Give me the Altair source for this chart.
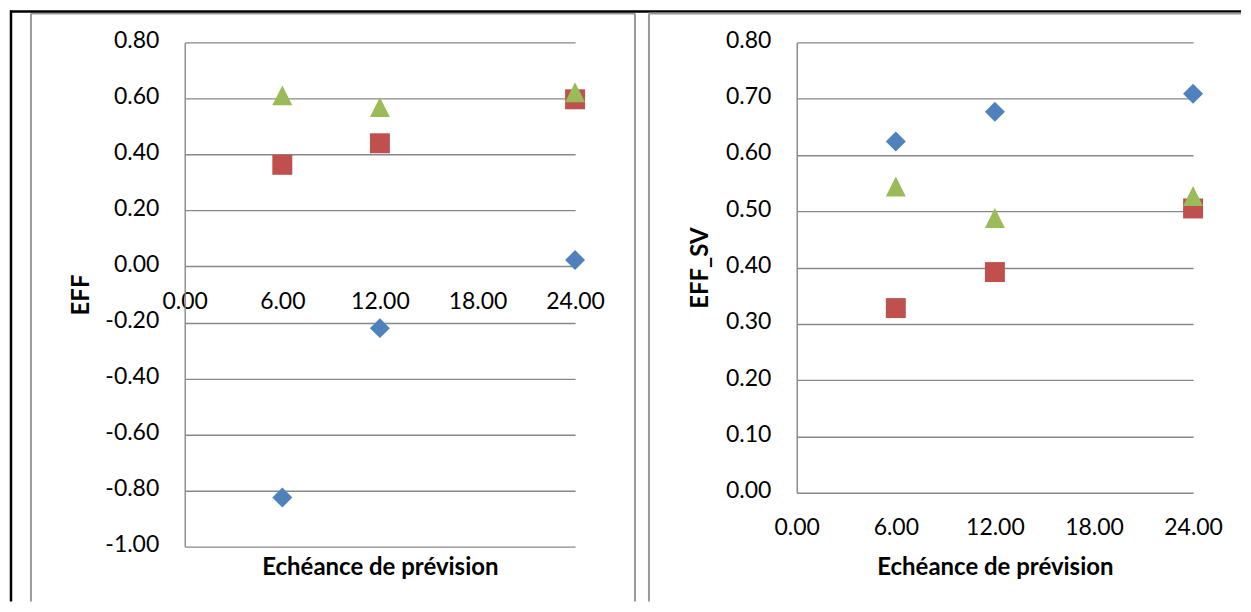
import altair as alt
import pandas as pd

# ---- data ----
lead_hours = [6, 12, 24]
series_names = ["Série1", "Série2", "Série3"]

eff_blue = [-0.825, -0.22, 0.023]
eff_red = [0.363, 0.44, 0.597]
eff_green = [0.611, 0.569, 0.622]

effsv_blue = [0.624, 0.677, 0.709]
effsv_red = [0.328, 0.392, 0.505]
effsv_green = [0.544, 0.488, 0.527]

x_ticks = [0, 6, 12, 18, 24]
eff_ticks = [-1.0, -0.8, -0.6, -0.4, -0.2, 0.0, 0.2, 0.4, 0.6, 0.8]
effsv_ticks = [0.0, 0.1, 0.2, 0.3, 0.4, 0.5, 0.6, 0.7, 0.8]

x_title = "Echéance de prévision"

series_colors = ["#4F81BD", "#C0504D", "#9BBB59"]
series_shapes = ["diamond", "square", "M0,-1L1,1L-1,1Z"]

FONT = "Lato"
GRID = "#878787"


def long_df(blue, red, green):
    rows = []
    for name, vals in zip(series_names, [blue, red, green]):
        for x, v in zip(lead_hours, vals):
            rows.append({"x": x, "serie": name, "v": v})
    return pd.DataFrame(rows)


def one_row():
    return alt.Data(values=[{"k": 1}])


def rule(color, width, **enc):
    return alt.Chart(one_row()).mark_rule(color=color, strokeWidth=width).encode(
        **{k: alt.value(v) for k, v in enc.items()}
    )


def panel(df, w, h, ydom, yvals, ytitle, x_offset, x_title_y, y_title_x):
    points = alt.Chart(df).mark_point(filled=True, opacity=1, size=400, strokeWidth=0).encode(
        x=alt.X(
            "x:Q",
            scale=alt.Scale(domain=[0, 24], nice=False, zero=False),
            axis=alt.Axis(
                values=x_ticks, format=".2f", title=x_title, offset=x_offset,
                domain=False, ticks=False, grid=False,
                labelFont=FONT, labelFontSize=23, labelColor="black",
                labelPadding=24, labelFlush=False, labelOverlap=False,
                titleFont=FONT, titleFontSize=24, titleFontWeight="bold",
                titleColor="black", titleX=w / 2, titleY=x_title_y,
                titleBaseline="alphabetic", titleAlign="center",
            ),
        ),
        y=alt.Y(
            "v:Q",
            scale=alt.Scale(domain=ydom, nice=False, zero=False),
            axis=alt.Axis(
                values=yvals,
                labelExpr="replace(format(datum.value, '.2f'), '\u2212', '-')",
                title=ytitle, grid=True, gridColor=GRID, gridWidth=1.4,
                domain=True, domainColor=GRID, domainWidth=1.4, ticks=False,
                labelFont=FONT, labelFontSize=23, labelColor="black",
                labelPadding=26, labelOffset=-2, labelFlush=False, labelOverlap=False,
                titleFont=FONT, titleFontSize=24, titleFontWeight="bold",
                titleColor="black", titleAngle=270, titleX=y_title_x,
                titleY=h / 2, titleBaseline="alphabetic", titleAlign="center",
            ),
        ),
        color=alt.Color("serie:N", scale=alt.Scale(domain=series_names, range=series_colors), legend=None),
        shape=alt.Shape("serie:N", scale=alt.Scale(domain=series_names, range=series_shapes), legend=None),
        order=alt.Order("idx:Q"),
    ).transform_calculate(idx="indexof(['Série1','Série2','Série3'], datum.serie)")
    return points


# left panel: plot origin at page (183, 40), 391 x 505
left_pts = panel(long_df(eff_blue, eff_red, eff_green), 391, 505, [-1.0, 0.8], eff_ticks,
                 "EFF", -280.6, 308.6, -96)
left = alt.layer(
    left_pts,
    rule("#9a9a9a", 2, x=-154, y=-29, y2=560),
    rule("#9a9a9a", 2, x=-154, x2=451, y=-29),
    rule("#9a9a9a", 2, x=451, y=-29, y2=560),
    rule("black", 2.5, x=-174, y=-32, y2=560),
    rule("black", 2.5, x=-175, x2=1058, y=-31),
).properties(width=391, height=505)

# right panel: plot origin at page (796, 40), 397 x 451
right_pts = panel(long_df(effsv_blue, effsv_red, effsv_green), 397, 451, [0.0, 0.8], effsv_ticks,
                  "EFF_SV", 0, 82, -89)
right = alt.layer(
    right_pts,
    rule("#9a9a9a", 2, x=-148, y=-29, y2=560),
    rule("#9a9a9a", 2, x=-148, x2=445, y=-29),
).properties(width=397, height=451)

chart = alt.hconcat(left, right, spacing=222, bounds="flush").properties(
    padding=0
).configure_view(strokeWidth=0)

chart.save("out.html", embed_options={"renderer": "svg", "actions": False})
